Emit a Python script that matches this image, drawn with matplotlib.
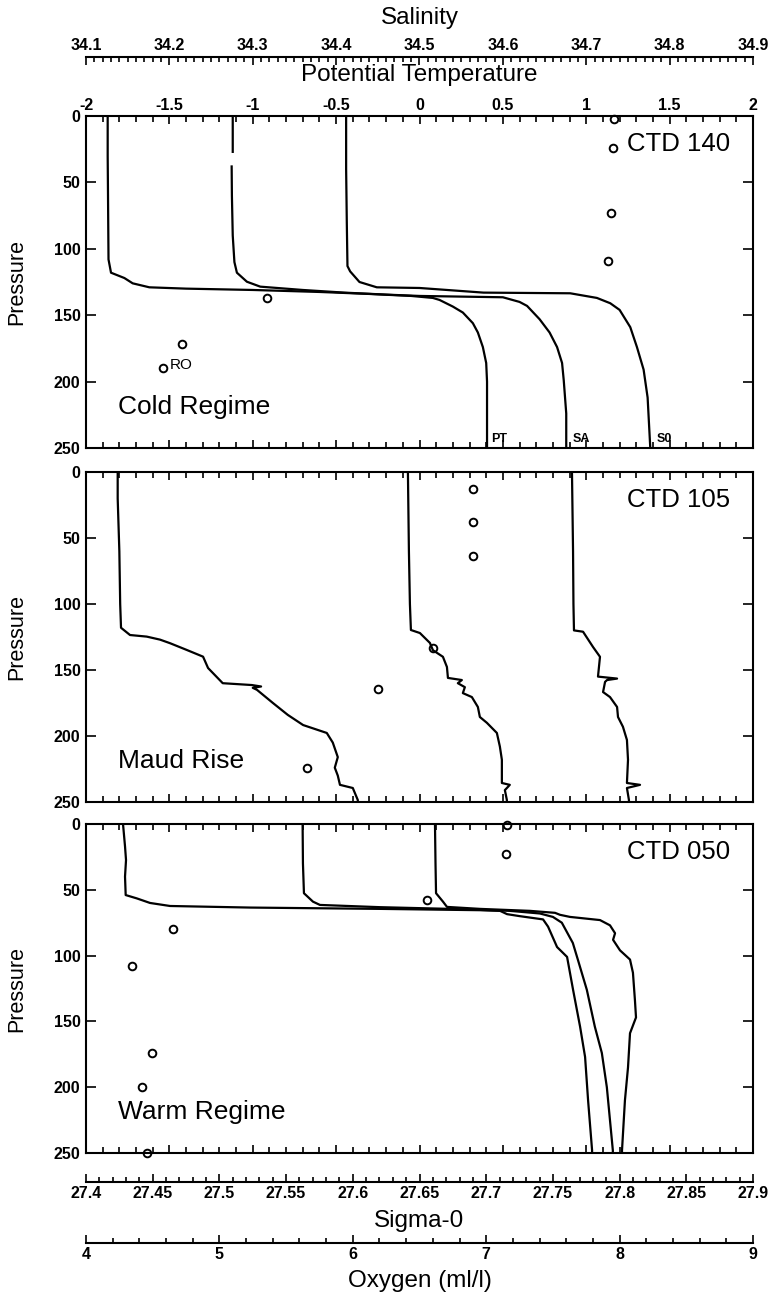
import matplotlib
matplotlib.use("Agg")
import matplotlib.pyplot as plt
import numpy as np
from matplotlib.ticker import MultipleLocator

plt.rcParams['font.family'] = ['Liberation Sans', 'DejaVu Sans']
plt.rcParams['axes.unicode_minus'] = False

# ---- CTD 140 (Cold Regime) ----
p_pt140 = [0, 30, 60, 108, 118, 122, 126, 129, 130, 131, 132.5, 134, 135.5, 137, 138.5,
           143.5, 148, 156, 163, 174, 186, 200, 250]
pt140 = [-1.87, -1.87, -1.868, -1.865, -1.85, -1.77, -1.72, -1.62, -1.40, -1.0, -0.6, -0.3,
         -0.05, 0.08, 0.12, 0.20, 0.26, 0.32, 0.35, 0.38, 0.40, 0.405, 0.405]
p_sa140 = [0, 27, np.nan, 38, 60, 90, 110, 118, 124.8, 128.5, 131, 133, 134.5, 135.5, 136.5,
           140, 143, 153, 163, 174, 186, 199, 224, 250]
sa140 = [34.276, 34.276, np.nan, 34.2747, 34.275, 34.276, 34.278, 34.281, 34.293, 34.309,
         34.36, 34.41, 34.46, 34.50, 34.60, 34.62, 34.629, 34.644, 34.656, 34.665, 34.671,
         34.673, 34.676, 34.676]
p_s0140 = [0, 40, 80, 113, 117, 125, 129, 129.5, 133, 133.5, 137, 141, 146, 159, 174, 191, 212, 250]
s0140 = [27.595, 27.595, 27.5955, 27.596, 27.598, 27.605, 27.618, 27.65, 27.698, 27.763,
         27.783, 27.793, 27.800, 27.808, 27.813, 27.818, 27.821, 27.823]
p_ox140 = [2.3, 24, 73, 109, 137, 172, 190]
ox140 = [7.958, 7.95, 7.935, 7.91, 5.36, 4.72, 4.58]

# ---- CTD 105 (Maud Rise) ----
p_pt105 = [0, 20, 60, 100, 118, 123.5, 124.7, 127, 129.7, 134.8, 139.9, 148.5, 160, 161.4,
           162.5, 163.5, 165, 175, 184, 191.7, 197.7, 205, 216, 224, 230, 237, 239.4, 248.5, 250]
pt105 = [-1.81, -1.81, -1.80, -1.795, -1.79, -1.736, -1.636, -1.556, -1.496, -1.396, -1.298,
         -1.268, -1.18, -1.005, -0.95, -1.0, -0.975, -0.879, -0.79, -0.698, -0.556, -0.52,
         -0.49, -0.508, -0.49, -0.477, -0.40, -0.37, -0.37]
p_sa105 = [0, 60, 100, 119.7, 122, 129.5, 135, 140, 147.7, 156, 157.6, 160, 163, 167.5, 170.5,
           178, 185.6, 190, 197.7, 208, 218, 235.6, 237, 238.6, 241, 248.5, 250]
sa105 = [34.4861, 34.4873, 34.4885, 34.4897, 34.5005, 34.5125, 34.5161, 34.5281, 34.5329,
         34.5341, 34.5508, 34.5460, 34.5544, 34.5520, 34.5628, 34.5700, 34.5724, 34.5808,
         34.5928, 34.5964, 34.5988, 34.5988, 34.6083, 34.6060, 34.6024, 34.6048, 34.6048]
p_s0105 = [0, 60, 100, 120, 121, 132.6, 140, 155, 156.5, 157.6, 159, 166.7, 170.5, 178, 185.6,
           193, 203, 218, 235.6, 237, 239.4, 248.5, 250]
s0105 = [27.7643, 27.7651, 27.7654, 27.7658, 27.7726, 27.7801, 27.7853, 27.7838, 27.7981,
         27.7906, 27.7891, 27.7876, 27.7928, 27.7981, 27.7988, 27.8025, 27.8055, 27.8063,
         27.8055, 27.8153, 27.8055, 27.8070, 27.8070]
p_ox105 = [13.1, 38.1, 63.4, 133.6, 164.4, 224]
ox105 = [6.90, 6.90, 6.90, 6.60, 6.19, 5.66]

# ---- CTD 050 (Warm Regime) ----
p_pt050 = [0, 17, 27.4, 40, 54, 56.5, 60, 62.3, 63.5, 64.5, 65.5, 66, 68.5, 70, 72.5, 78,
           93.5, 101, 126, 154, 177, 210, 248, 250]
pt050 = [-1.778, -1.766, -1.760, -1.766, -1.762, -1.696, -1.616, -1.496, -1.0165, -0.237,
         0.363, 0.483, 0.525, 0.60, 0.741, 0.771, 0.825, 0.885, 0.921, 0.963, 0.993, 1.011,
         1.035, 1.035]
p_sa050 = [0, 30, 52.6, 59, 61.5, 63.2, 64.5, 66, 68, 70.6, 75, 90.4, 103, 126, 154, 174,
           200, 248, 250]
sa050 = [34.3598, 34.3602, 34.3614, 34.3722, 34.3806, 34.4525, 34.5365, 34.6084, 34.6444,
         34.6600, 34.6707, 34.6839, 34.6899, 34.7007, 34.7103, 34.7187, 34.7247, 34.7319, 34.7319]
p_s0050 = [0, 30, 52.6, 59, 63, 64.5, 66, 67.5, 69, 70.6, 73, 77, 83, 88, 96, 103, 113, 134,
           147, 159, 185, 210, 248, 250]
s0050 = [27.6616, 27.6620, 27.6624, 27.6676, 27.6706, 27.6954, 27.7328, 27.7516, 27.7553,
         27.7628, 27.7853, 27.7928, 27.7966, 27.7951, 27.8003, 27.8078, 27.8100, 27.8115,
         27.8123, 27.8078, 27.8063, 27.8040, 27.8018, 27.8018]
p_ox050 = [0.5, 22.8, 57.8, 80, 107.7, 174.3, 200.1, 250]
ox050 = [7.154, 7.148, 6.554, 4.655, 4.342, 4.497, 4.417, 4.46]

stations = ["CTD 140", "CTD 105", "CTD 050"]
regimes = ["Cold Regime", "Maud Rise", "Warm Regime"]

pt_ticks = [-2, -1.5, -1, -0.5, 0, 0.5, 1, 1.5, 2]
pt_labels = ["-2", "-1.5", "-1", "-0.5", "0", "0.5", "1", "1.5", "2"]
sal_ticks = [34.1, 34.2, 34.3, 34.4, 34.5, 34.6, 34.7, 34.8, 34.9]
sal_labels = ["34.1", "34.2", "34.3", "34.4", "34.5", "34.6", "34.7", "34.8", "34.9"]
sig_ticks = [27.4, 27.45, 27.5, 27.55, 27.6, 27.65, 27.7, 27.75, 27.8, 27.85, 27.9]
sig_labels = ["27.4", "27.45", "27.5", "27.55", "27.6", "27.65", "27.7", "27.75", "27.8",
              "27.85", "27.9"]
ox_ticks = [4, 5, 6, 7, 8, 9]
ox_labels = ["4", "5", "6", "7", "8", "9"]
p_ticks = [0, 50, 100, 150, 200, 250]
p_labels = ["0", "50", "100", "150", "200", "250"]

data = [
    (p_pt140, pt140, p_sa140, sa140, p_s0140, s0140, p_ox140, ox140),
    (p_pt105, pt105, p_sa105, sa105, p_s0105, s0105, p_ox105, ox105),
    (p_pt050, pt050, p_sa050, sa050, p_s0050, s0050, p_ox050, ox050),
]

W, H = 774, 1298
fig = plt.figure(figsize=(W / 100, H / 100), dpi=100)


def rect(x0, y0, x1, y1):
    return [x0 / W, 1 - y1 / H, (x1 - x0) / W, (y1 - y0) / H]


X0, X1 = 86, 753
panel_y = [(116, 448), (472, 802), (824, 1153)]
LW = 1.6
tickfont = dict(fontsize=11.5, fontweight='bold')

for i, (top, bot) in enumerate(panel_y):
    ax = fig.add_axes(rect(X0, top, X1, bot))
    sal = ax.twiny()
    sig = ax.twiny()
    oxy = ax.twiny()
    for tw, lim in ((sal, (34.1, 34.9)), (sig, (27.4, 27.9)), (oxy, (4, 9))):
        tw.set_xlim(*lim)
        tw.axis('off')

    ax.set_xlim(-2, 2)
    ax.set_ylim(250, 0)
    for s in ax.spines.values():
        s.set_linewidth(1.5)

    ax.set_xticks(pt_ticks, labels=pt_labels, **tickfont)
    ax.xaxis.set_minor_locator(MultipleLocator(0.1))
    ax.tick_params(axis='x', which='both', direction='in', top=True, bottom=True,
                   labeltop=(i == 0), labelbottom=False, width=1.2, pad=2)
    ax.tick_params(axis='x', which='major', length=6)
    ax.tick_params(axis='x', which='minor', length=4)
    ax.set_yticks(p_ticks, labels=p_labels, **tickfont)
    ax.tick_params(axis='y', direction='in', left=True, right=True, length=7, width=1.2, pad=4)

    p_pt, pt, p_sa, sa, p_s0, s0, p_ox, ox = data[i]
    ax.plot(pt, p_pt, color='black', lw=LW)
    sal.plot(sa, p_sa, color='black', lw=LW)
    sig.plot(s0, p_s0, color='black', lw=LW)
    oxy.plot(ox, p_ox, linestyle='none', marker='o', ms=5.5, mfc='none', mec='black',
             mew=1.4, clip_on=False)

    ax.text(0.811, 0.916, stations[i], transform=ax.transAxes, fontsize=18.5,
            ha='left', va='center')
    ax.text(0.048, 0.124, regimes[i], transform=ax.transAxes, fontsize=19,
            ha='left', va='center')
    fig.text(17 / W, 1 - (top + bot) / 2 / H, "Pressure", rotation=90, fontsize=15.5,
             ha='center', va='center')

    if i == 0:
        ax.text(0.607, 0.026, "PT", transform=ax.transAxes, fontsize=9, fontweight='bold',
                ha='left', va='center')
        ax.text(0.730, 0.026, "SA", transform=ax.transAxes, fontsize=9, fontweight='bold',
                ha='left', va='center')
        ax.text(0.856, 0.026, "S0", transform=ax.transAxes, fontsize=9, fontweight='bold',
                ha='left', va='center')
        oxy.text(4.63, 187.5, "RO", fontsize=11, ha='left', va='center')


def scale_axis(ypix, lim, major, labels, minor, side):
    a = fig.add_axes([X0 / W, 1 - ypix / H, (X1 - X0) / W, 1e-4])
    a.patch.set_visible(False)
    a.set_xlim(*lim)
    a.set_yticks([])
    for k, s in a.spines.items():
        s.set_visible(k == side)
        s.set_linewidth(1.5)
    a.set_xticks(major, labels=labels, **tickfont)
    a.xaxis.set_minor_locator(MultipleLocator(minor))
    if side == 'top':
        a.xaxis.tick_top()
    else:
        a.xaxis.tick_bottom()
    a.tick_params(axis='x', which='both', direction='in', width=1.2, pad=3)
    a.tick_params(axis='x', which='major', length=6)
    a.tick_params(axis='x', which='minor', length=3.5)
    return a


scale_axis(57, (34.1, 34.9), sal_ticks, sal_labels, 0.01, 'top')
scale_axis(1182, (27.4, 27.9), sig_ticks, sig_labels, 0.01, 'bottom')
scale_axis(1243, (4, 9), ox_ticks, ox_labels, 0.2, 'bottom')

cx = (X0 + X1) / 2 / W
fig.text(cx, 1 - 18 / H, "Salinity", fontsize=17.5, ha='center', va='center')
fig.text(cx, 1 - 75 / H, "Potential Temperature", fontsize=17.5, ha='center', va='center')
fig.text(cx, 1 - 1221 / H, "Sigma-0", fontsize=17.5, ha='center', va='center')
fig.text(cx, 1 - 1281 / H, "Oxygen (ml/l)", fontsize=17.5, ha='center', va='center')

fig.savefig("out.png", dpi=100)
